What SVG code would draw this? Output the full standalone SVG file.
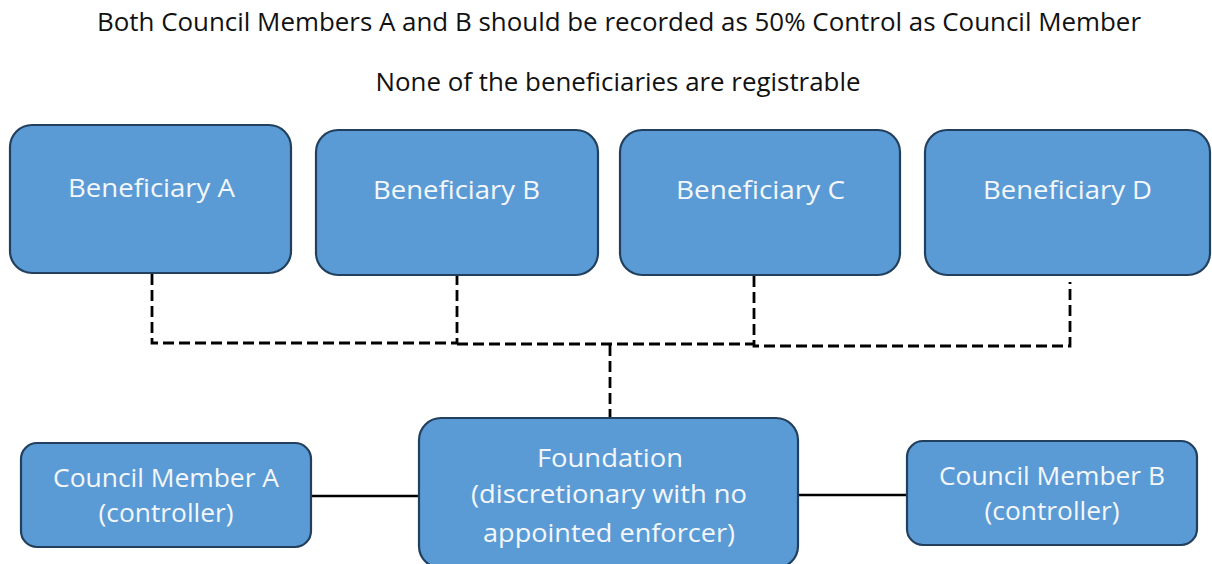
<svg xmlns="http://www.w3.org/2000/svg" width="1212" height="564" viewBox="0 0 1212 564">
<style>
.box{fill:#5B9BD5;stroke:#22405E;stroke-width:2.2}
.lbl{font-family:"Open Sans","Noto Sans",sans-serif;font-size:26px;fill:#F4F7FB;text-anchor:middle}
.ttl{font-family:"Open Sans","Liberation Sans",sans-serif;font-size:25px;fill:#111;text-anchor:middle}
.dash{fill:none;stroke:#000;stroke-width:2.8;stroke-dasharray:11 5}
.solid{fill:none;stroke:#000;stroke-width:2.4}
</style>
<rect width="1212" height="564" fill="#fff"/>
<text class="ttl" x="619" y="31" textLength="1044" lengthAdjust="spacingAndGlyphs">Both Council Members A and B should be recorded as 50% Control as Council Member</text>
<text class="ttl" x="618" y="91" textLength="485" lengthAdjust="spacingAndGlyphs">None of the beneficiaries are registrable</text>
<g id="connectors">
<path class="dash" d="M152,274 V343 H457 V276"/>
<path class="dash" d="M457,344 H754"/>
<path class="dash" d="M754,276 V346 H1070 V282"/>
<path class="dash" d="M610,345 V418"/>
<path class="solid" d="M311,496 H420"/>
<path class="solid" d="M798,495 H908"/>
</g>
<g id="benA"><rect class="box" x="10" y="125" width="281" height="148" rx="22"/><text class="lbl" x="151.5" y="197" textLength="167" lengthAdjust="spacingAndGlyphs">Beneficiary A</text></g>
<g id="benB"><rect class="box" x="316" y="130" width="282" height="145" rx="22"/><text class="lbl" x="456.5" y="199" textLength="167" lengthAdjust="spacingAndGlyphs">Beneficiary B</text></g>
<g id="benC"><rect class="box" x="620" y="130" width="280" height="145" rx="22"/><text class="lbl" x="760.5" y="199" textLength="169" lengthAdjust="spacingAndGlyphs">Beneficiary C</text></g>
<g id="benD"><rect class="box" x="925" y="130" width="285" height="145" rx="22"/><text class="lbl" x="1067.5" y="199" textLength="169" lengthAdjust="spacingAndGlyphs">Beneficiary D</text></g>
<g id="cmA"><rect class="box" x="21" y="443" width="290" height="104" rx="16"/><text class="lbl" x="166" y="487" textLength="226" lengthAdjust="spacingAndGlyphs">Council Member A</text><text class="lbl" x="166" y="522" textLength="135" lengthAdjust="spacingAndGlyphs">(controller)</text></g>
<g id="foundation"><rect class="box" x="419" y="418" width="379" height="150" rx="22"/><text class="lbl" x="610" y="467" textLength="146" lengthAdjust="spacingAndGlyphs">Foundation</text><text class="lbl" x="609" y="503" textLength="276" lengthAdjust="spacingAndGlyphs">(discretionary with no</text><text class="lbl" x="609" y="542" textLength="252" lengthAdjust="spacingAndGlyphs">appointed enforcer)</text></g>
<g id="cmB"><rect class="box" x="907" y="441" width="290" height="104" rx="16"/><text class="lbl" x="1052" y="485" textLength="226" lengthAdjust="spacingAndGlyphs">Council Member B</text><text class="lbl" x="1052" y="520" textLength="135" lengthAdjust="spacingAndGlyphs">(controller)</text></g>
</svg>
